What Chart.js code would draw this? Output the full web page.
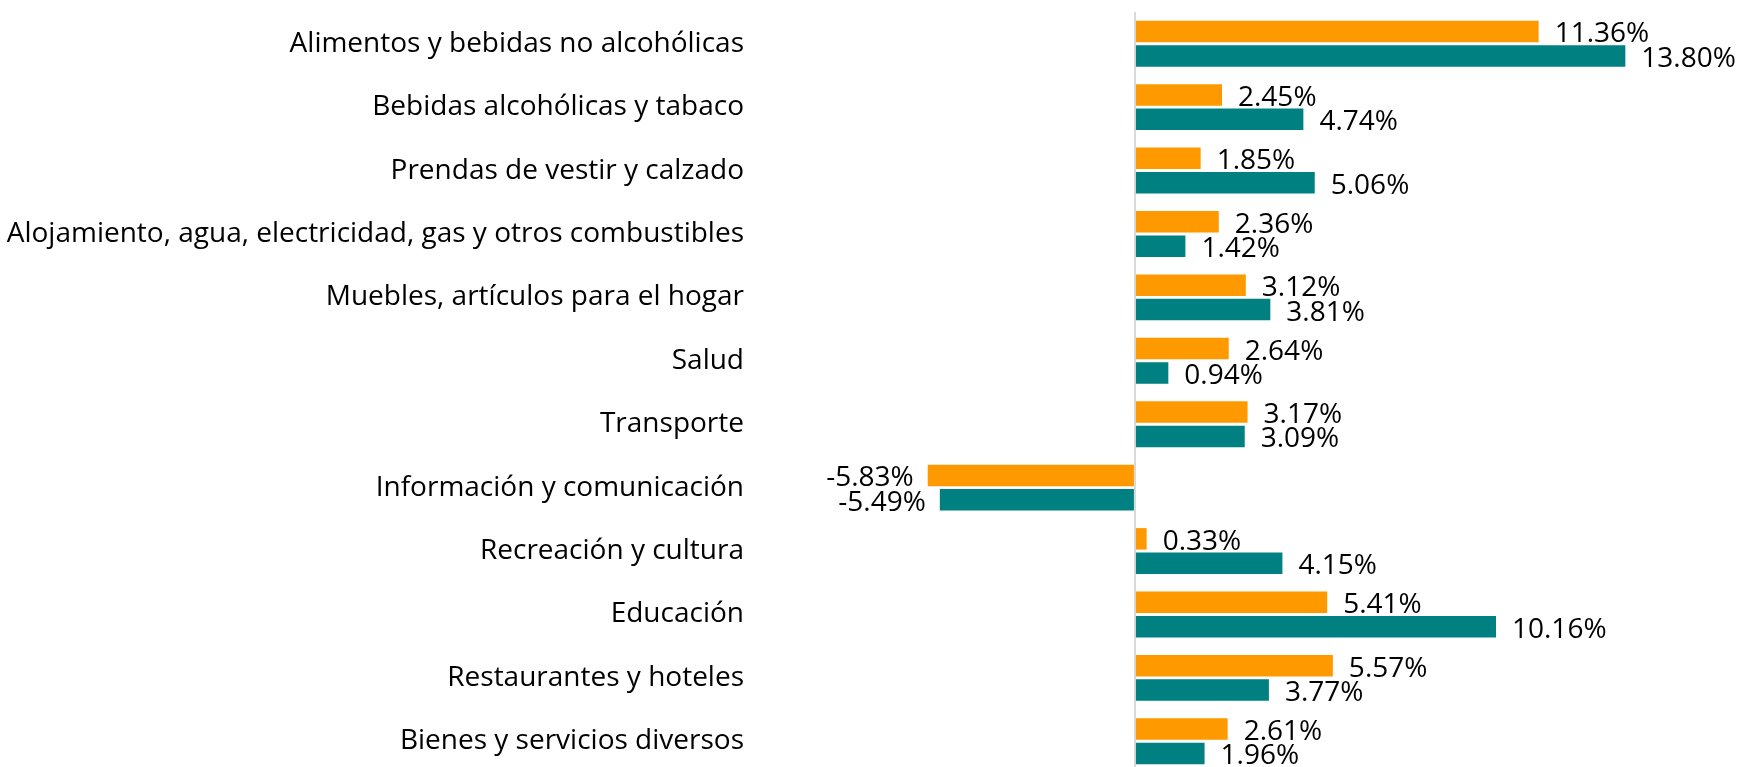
<!DOCTYPE html>
<html lang="es">
<head>
    <meta charset="UTF-8">
    <title>Variación por división de gasto</title>
    <script src="https://cdn.jsdelivr.net/npm/chart.js"></script>
    <style>
        html, body { margin: 0; padding: 0; background: #fff; overflow: hidden; }
        .chart-wrap { position: relative; width: 1742px; height: 780px; }
    </style>
</head>
<body>
    <div class="chart-wrap">
        <canvas id="barChart"></canvas>
    </div>

    <script>
        // Chart data
        const categories = [
            'Alimentos y bebidas no alcohólicas',
            'Bebidas alcohólicas y tabaco',
            'Prendas de vestir y calzado',
            'Alojamiento, agua, electricidad, gas y otros combustibles',
            'Muebles, artículos para el hogar',
            'Salud',
            'Transporte',
            'Información y comunicación',
            'Recreación y cultura',
            'Educación',
            'Restaurantes y hoteles',
            'Bienes y servicios diversos'
        ];
        const seriesOrange = [11.36, 2.45, 1.85, 2.36, 3.12, 2.64, 3.17, -5.83, 0.33, 5.41, 5.57, 2.61];
        const seriesTeal = [13.80, 4.74, 5.06, 1.42, 3.81, 0.94, 3.09, -5.49, 4.15, 10.16, 3.77, 1.96];

        const FONT = '"Open Sans", "Noto Sans", sans-serif';

        // Draws the percentage next to each bar end
        const valueLabels = {
            id: 'valueLabels',
            afterDatasetsDraw(chart) {
                const ctx = chart.ctx;
                ctx.save();
                ctx.font = '28px ' + FONT;
                ctx.fillStyle = '#000';
                ctx.textBaseline = 'middle';
                chart.data.datasets.forEach((ds, i) => {
                    const meta = chart.getDatasetMeta(i);
                    meta.data.forEach((bar, j) => {
                        const v = ds.data[j];
                        const text = v.toFixed(2) + '%';
                        if (v >= 0) {
                            ctx.textAlign = 'left';
                            ctx.fillText(text, bar.x + 16, bar.y + 3);
                        } else {
                            ctx.textAlign = 'right';
                            ctx.fillText(text, bar.x - 14, bar.y + 3);
                        }
                    });
                });
                ctx.restore();
            }
        };

        new Chart(document.getElementById('barChart'), {
            type: 'bar',
            data: {
                labels: categories,
                datasets: [{
                    label: 'Serie 1',
                    data: seriesOrange,
                    backgroundColor: '#ff9900',
                    categoryPercentage: 0.77,
                    barPercentage: 0.88
                }, {
                    label: 'Serie 2',
                    data: seriesTeal,
                    backgroundColor: '#008080',
                    categoryPercentage: 0.77,
                    barPercentage: 0.88
                }]
            },
            options: {
                indexAxis: 'y',
                responsive: true,
                maintainAspectRatio: false,
                animation: false,
                layout: {
                    padding: { top: 12, right: 74, bottom: 7, left: 0 }
                },
                scales: {
                    x: {
                        min: -11,
                        max: 15,
                        ticks: { display: false, stepSize: 1 },
                        border: { display: false },
                        grid: {
                            drawTicks: false,
                            lineWidth: 2,
                            color: c => c.tick && c.tick.value === 0 ? '#d9d9d9' : 'rgba(0,0,0,0)'
                        }
                    },
                    y: {
                        grid: { display: false, drawTicks: false },
                        border: { display: false },
                        ticks: {
                            padding: 0,
                            color: '#000',
                            font: { family: FONT, size: 28 }
                        },
                        afterFit: scale => {
                            scale.width = 744;
                            scale.paddingTop = 0;
                            scale.paddingBottom = 0;
                        }
                    }
                },
                plugins: {
                    legend: { display: false },
                    tooltip: { enabled: false }
                }
            },
            plugins: [valueLabels]
        });
    </script>
</body>
</html>
